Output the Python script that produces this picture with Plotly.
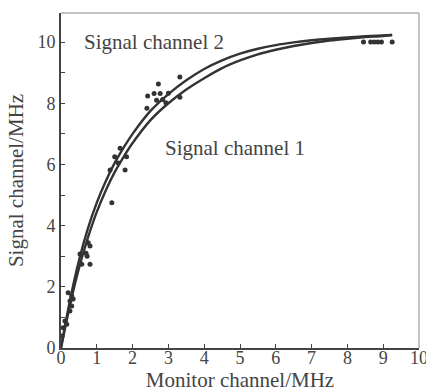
import plotly.graph_objects as go

# Fitted curves
curve_x = [0, 0.25, 0.5, 0.75, 1.0, 1.25, 1.5, 1.75, 2.0, 2.5, 3.0, 3.5, 4.0, 4.5,
           5.0, 5.5, 6.0, 6.5, 7.0, 7.5, 8.0, 8.5, 9.0, 9.25]
ch2_y = [0, 1.55, 2.85, 3.9, 4.75, 5.45, 6.05, 6.55, 7.0, 7.75, 8.3, 8.75, 9.12, 9.4,
         9.62, 9.78, 9.9, 9.99, 10.06, 10.11, 10.15, 10.19, 10.22, 10.23]
ch1_y = [0, 1.4, 2.6, 3.6, 4.45, 5.15, 5.75, 6.25, 6.7, 7.45, 8.0, 8.45, 8.82, 9.15,
         9.4, 9.6, 9.75, 9.87, 9.97, 10.05, 10.11, 10.16, 10.2, 10.23]

# Measured points
pts_x = [0.03, 0.06, 0.11, 0.16, 0.2, 0.25, 0.25, 0.3, 0.3, 0.34,
         0.53, 0.58, 0.7, 0.73, 0.76, 0.81, 0.81,
         1.37, 1.42, 1.5, 1.6, 1.65, 1.79, 1.83,
         2.4, 2.42, 2.6, 2.67, 2.72, 2.77, 2.84, 2.93, 3.0, 3.32, 3.32,
         8.45, 8.65, 8.75, 8.85, 8.95, 9.25]
pts_y = [0.39, 0.66, 0.88, 0.78, 1.81, 1.54, 1.21, 1.7, 1.37, 1.6,
         3.07, 2.74, 3.1, 3.0, 3.44, 3.33, 2.74,
         5.82, 4.75, 6.25, 6.05, 6.53, 5.82, 6.25,
         7.84, 8.24, 8.32, 8.1, 8.63, 8.32, 8.12, 8.02, 8.33, 8.86, 8.2,
         10.0, 10.0, 10.0, 10.0, 10.0, 10.0]

x_ticks = list(range(0, 11))
y_ticks = [0, 2, 4, 6, 8, 10]

FONT = "Liberation Serif"
DARK = "#333333"
TXT = "#444444"

fig = go.Figure()
fig.add_trace(go.Scatter(x=curve_x, y=ch2_y, mode="lines",
                         line=dict(color=DARK, width=2.4, shape="spline"),
                         showlegend=False, hoverinfo="skip"))
fig.add_trace(go.Scatter(x=curve_x, y=ch1_y, mode="lines",
                         line=dict(color=DARK, width=2.4, shape="spline"),
                         showlegend=False, hoverinfo="skip"))
fig.add_trace(go.Scatter(x=pts_x, y=pts_y, mode="markers",
                         marker=dict(color=DARK, size=5),
                         showlegend=False))

fig.add_annotation(x=0.59, y=10.0, text="Signal channel 2", showarrow=False,
                   xanchor="left", yanchor="middle",
                   font=dict(family=FONT, size=21, color=TXT))
fig.add_annotation(x=2.85, y=6.54, text="Signal channel 1", showarrow=False,
                   xanchor="left", yanchor="middle",
                   font=dict(family=FONT, size=21, color=TXT))

# frame top/right
fig.add_shape(type="line", xref="paper", yref="paper", x0=0, x1=1, y0=1, y1=1,
              line=dict(color="#888888", width=1))
fig.add_shape(type="line", xref="paper", yref="paper", x0=1, x1=1, y0=0, y1=1,
              line=dict(color="#888888", width=1))

fig.update_xaxes(range=[0, 10], tickvals=x_ticks, ticktext=[str(v) for v in x_ticks],
                 ticks="inside", ticklen=4, tickcolor=TXT, ticklabeloverflow="allow",
                 ticklabelstandoff=-8,
                 automargin=False,
                 showline=True, linecolor=TXT, linewidth=2,
                 showgrid=False, zeroline=False,
                 tickfont=dict(family=FONT, size=18, color=TXT),
                 title=dict(text="Monitor channel/MHz", standoff=2,
                            font=dict(family=FONT, size=21, color=TXT)))
fig.update_yaxes(range=[0, 10.95], tickvals=y_ticks, ticktext=[str(v) for v in y_ticks],
                 ticks="inside", ticklen=4, tickcolor=TXT, automargin=False,
                 minor=dict(dtick=1, tick0=0, ticks="inside", ticklen=4, tickcolor=TXT),
                 showline=True, linecolor=TXT, linewidth=2,
                 showgrid=False, zeroline=False,
                 tickfont=dict(family=FONT, size=18, color=TXT),
                 title=dict(text="Signal channel/MHz", standoff=8,
                            font=dict(family=FONT, size=21, color=TXT)))

fig.update_layout(width=426, height=392, margin=dict(l=61, r=7, t=13, b=44),
                  plot_bgcolor="white", paper_bgcolor="white")

fig.write_html("out.html")
